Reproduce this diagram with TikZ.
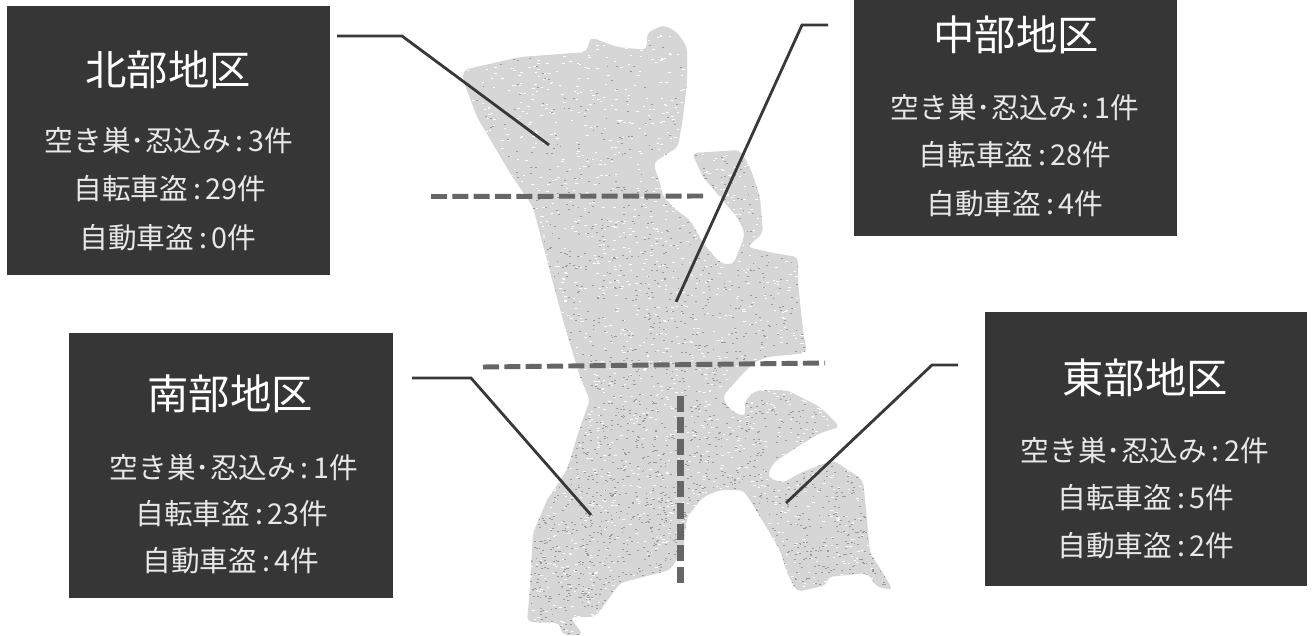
\documentclass[tikz,border=0pt]{standalone}
\usepackage{fontspec}
\setmainfont{Noto Sans CJK JP}
\newcommand{\cln}{\,:\,}
\begin{document}
\begin{tikzpicture}[x=0.75pt,y=-0.75pt,
  panel/.style={fill=panelc,draw=none,inner sep=0pt,anchor=north west},
  ttl/.style={text=white,font=\fontsize{31}{36}\selectfont\addfontfeature{Weight=Light},anchor=center,inner sep=0pt},
  bodyt/.style={text=bodyc,font=\fontsize{21.5}{26}\selectfont\addfontfeature{Weight=Light},anchor=center,inner sep=0pt},
  leader/.style={draw=leaderc,line width=2.1pt,line join=miter},
  divide/.style={draw=divc,line width=3.7pt,dash pattern=on 12pt off 4pt},
  ]
\definecolor{panelc}{HTML}{363636}
\definecolor{bodyc}{HTML}{E8E8E8}
\definecolor{leaderc}{HTML}{383838}
\definecolor{divc}{HTML}{666666}
\definecolor{mapc}{HTML}{D6D6D6}
\useasboundingbox (0,0) rectangle (1312,635);
\fill[white] (0,0) rectangle (1312,635);
% map
\def\mappath{(463,70) -- (520,57) -- (587,52) -- (590,37) -- (617,47) -- (647,50) -- (647,33) -- (663,25) -- (677,32) -- (687,47) -- (687,83) -- (683,117) -- (678,147) -- (653,163) -- (660,183) -- (663,197) -- (680,213) -- (690,220) -- (703,243) -- (720,263) -- (733,265) -- (740,248) -- (745,233) -- (737,217) -- (720,197) -- (703,177) -- (692,153) -- (740,150) -- (750,167) -- (760,197) -- (763,233) -- (753,242) -- (747,247) -- (773,253) -- (798,257) -- (798,283) -- (803,330) -- (807,353) -- (767,357) -- (753,363) -- (737,380) -- (722,397) -- (730,410) -- (745,417) -- (745,400) -- (757,390) -- (787,390) -- (820,407) -- (840,427) -- (820,433) -- (797,447) -- (773,463) -- (767,477) -- (783,483) -- (800,473) -- (833,460) -- (863,480) -- (867,520) -- (870,553) -- (883,573) -- (893,590) -- (877,587) -- (867,573) -- (827,577) -- (827,585) -- (797,592) -- (787,573) -- (780,550) -- (750,500) -- (743,490) -- (720,490) -- (703,497) -- (687,517) -- (683,550) -- (670,570) -- (620,583) -- (610,597) -- (595,617) -- (570,617) -- (583,635) -- (562,635) -- (560,623) -- (527,622) -- (530,587) -- (533,533) -- (547,500) -- (567,470) -- (580,427) -- (590,400) -- (580,377) -- (563,320) -- (553,283) -- (533,207) -- (510,173) -- (477,117) -- (463,80) -- cycle}
\fill[mapc,rounded corners=4pt] \mappath;
\begin{scope}
\clip[rounded corners=4pt] \mappath;
\pgfmathsetseed{4242}
\foreach \i in {1,...,3000}{
  \pgfmathsetmacro{\px}{460+rnd*440}
  \pgfmathsetmacro{\py}{20+rnd*615}
  \fill[white] (\px,\py) rectangle ++(2.4,0.9);
}
\foreach \i in {1,...,3800}{
  \pgfmathsetmacro{\px}{460+rnd*440}
  \pgfmathsetmacro{\py}{20+sqrt(rnd)*615}
  \fill[black!40] (\px,\py) rectangle ++(1.8,0.9);
}
\end{scope}
% dividers
\coordinate (d1a) at (431,196.5); \coordinate (d1b) at (708,196);
\coordinate (d2a) at (483,367); \coordinate (d2b) at (825,363);
\coordinate (d3a) at (680.5,396); \coordinate (d3b) at (680.5,583);
\draw[divide] (d1a) -- (d1b);
\draw[divide] (d2a) -- (d2b);
\draw[divide,line width=5pt] (d3a) -- (d3b);
% panels
\node[panel,minimum width=323*0.75pt,minimum height=269*0.75pt] (north) at (7,6) {};
\node[panel,minimum width=323*0.75pt,minimum height=236*0.75pt] (center) at (854,0) {};
\node[panel,minimum width=324*0.75pt,minimum height=265*0.75pt] (south) at (69,333) {};
\node[panel,minimum width=322*0.75pt,minimum height=274*0.75pt] (east) at (985,312) {};
% titles and rows
\node[ttl] (nt) at (168,70) {北部地区};
\node[bodyt] (n1) at (169,141) {空き巣･忍込み\cln 3件};
\node[bodyt] (n2) at (170,189) {自転車盗\cln 29件};
\node[bodyt] (n3) at (168,238) {自動車盗\cln 0件};
\node[ttl] (ct) at (1016,35) {中部地区};
\node[bodyt] (c1) at (1015,108) {空き巣･忍込み\cln 1件};
\node[bodyt] (c2) at (1015,155) {自転車盗\cln 28件};
\node[bodyt] (c3) at (1015,204) {自動車盗\cln 4件};
\node[ttl] (st) at (230,394) {南部地区};
\node[bodyt] (s1) at (234,468) {空き巣･忍込み\cln 1件};
\node[bodyt] (s2) at (232,514) {自転車盗\cln 23件};
\node[bodyt] (s3) at (231,561) {自動車盗\cln 4件};
\node[ttl] (et) at (1145,378) {東部地区};
\node[bodyt] (e1) at (1145,451) {空き巣･忍込み\cln 2件};
\node[bodyt] (e2) at (1146,498) {自転車盗\cln 5件};
\node[bodyt] (e3) at (1146,546) {自動車盗\cln 2件};
% leaders
\coordinate (ln0) at (337,36); \coordinate (ln1) at (402,36); \coordinate (ln2) at (549,145);
\coordinate (lc0) at (828,25); \coordinate (lc1) at (802,25); \coordinate (lc2) at (676,302);
\coordinate (ls0) at (412,378); \coordinate (ls1) at (471,378); \coordinate (ls2) at (591,515);
\coordinate (le0) at (958,365); \coordinate (le1) at (932,365); \coordinate (le2) at (786,503);
\draw[leader] (ln0) -- (ln1) -- (ln2);
\draw[leader] (lc0) -- (lc1) -- (lc2);
\draw[leader] (ls0) -- (ls1) -- (ls2);
\draw[leader] (le0) -- (le1) -- (le2);
\end{tikzpicture}
\end{document}
